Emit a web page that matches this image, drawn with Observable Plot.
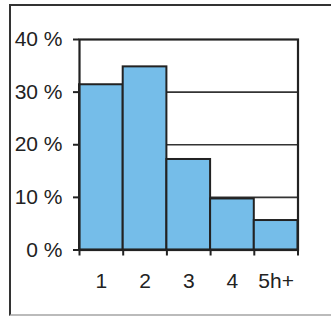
<!DOCTYPE html>
<html>
<head>
<meta charset="utf-8">
<script src="https://cdn.jsdelivr.net/npm/d3@7"></script>
<script src="https://cdn.jsdelivr.net/npm/@observablehq/plot@0.6"></script>
<style>
  html, body { margin: 0; padding: 0; background: #fff; }
  #wrap { position: relative; width: 331px; height: 316px; overflow: hidden; }
  #border { position: absolute; left: 9px; top: 4px; width: 340px; height: 308px;
            border-left: 2px solid #333; border-top: 2px solid #333; border-bottom: 2px solid #bbb; }
  #chart { position: absolute; left: 0; top: 0; }
</style>
</head>
<body>
<div id="wrap"><div id="border"></div><div id="chart"></div></div>
<script>
const categories = ["1", "2", "3", "4", "5h+"];
const shares = [31.4, 34.8, 17.2, 9.7, 5.6];
const yTicks = [0, 10, 20, 30, 40];
const gridValues = [10, 20, 30];

const data = categories.map((c, i) => ({ label: c, i, value: shares[i] }));
const boundaries = d3.range(categories.length + 1);
const centers = categories.map((c, i) => i + 0.5);

const chart = Plot.plot({
  width: 331,
  height: 316,
  marginLeft: 79,
  marginRight: 33.5,
  marginTop: 39,
  marginBottom: 66.5,
  style: { fontFamily: "'Liberation Sans', Arial, sans-serif", fontSize: "21px", color: "#222", background: "transparent", overflow: "visible" },
  x: { domain: [0, categories.length] },
  y: { domain: [0, 40] },
  marks: [
    Plot.ruleY(gridValues, { stroke: "#333", strokeWidth: 1.6 }),
    Plot.rectY(data, { x1: "i", x2: d => d.i + 1, y: "value", fill: "#75bde9", stroke: "#222", strokeWidth: 2 }),
    Plot.frame({ stroke: "#222", strokeWidth: 2.2 }),
    Plot.axisY({ ticks: yTicks, tickSize: 6, tickPadding: 11, tickFormat: d => d + " %", stroke: "#222", strokeWidth: 2, label: null }),
    Plot.axisX({ ticks: boundaries, tickSize: 6, tickFormat: () => "", stroke: "#222", strokeWidth: 2, label: null }),
    Plot.axisX({ ticks: centers, tickSize: 0, tickPadding: 23.5, tickFormat: d => categories[Math.floor(d)], label: null })
  ]
});
document.getElementById("chart").appendChild(chart);
</script>
</body>
</html>
